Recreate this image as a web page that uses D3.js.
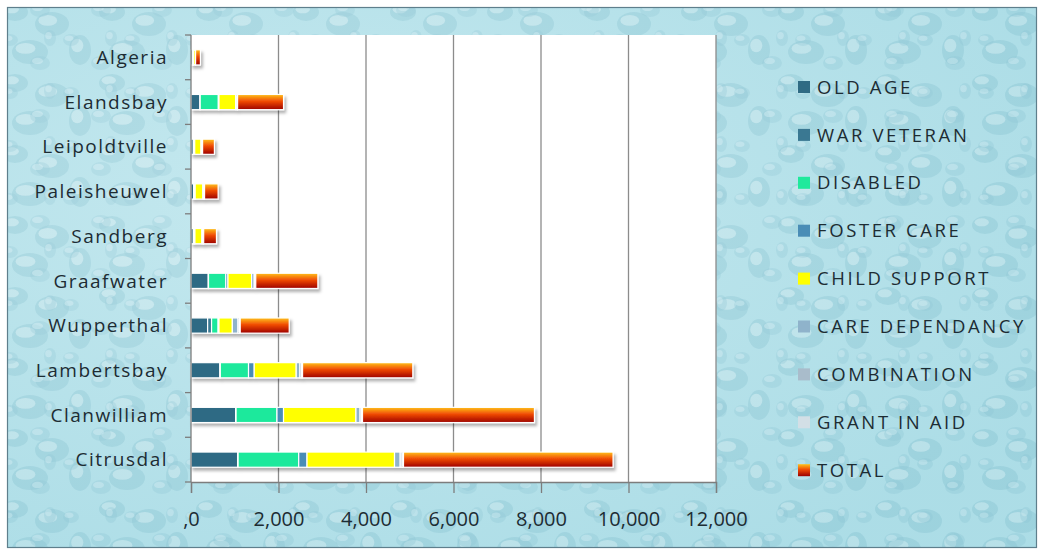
<!DOCTYPE html>
<html>
<head>
<meta charset="utf-8">
<script src="https://cdn.jsdelivr.net/npm/d3@7"></script>
<style>
  body { margin: 0; background: #fff; }
  text { font-family: "Open Sans", "Noto Sans", sans-serif; fill: #1d2c33; }
</style>
</head>
<body>
<svg id="chart" width="1043" height="550"></svg>
<script>
// Towns, top to bottom
const categories = ["Algeria", "Elandsbay", "Leipoldtville", "Paleisheuwel", "Sandberg",
  "Graafwater", "Wupperthal", "Lambertsbay", "Clanwilliam", "Citrusdal"];

// Grant counts per town (same order as categories)
const oldAge         = [40, 205, 55, 60, 55, 395, 380, 660, 1020, 1065];
const warVeteran     = [0, 5, 0, 0, 0, 5, 90, 10, 10, 12];
const disabled       = [10, 415, 20, 25, 25, 395, 150, 645, 935, 1385];
const fosterCare     = [5, 15, 10, 10, 10, 50, 20, 130, 150, 190];
const childSupport   = [45, 380, 145, 175, 160, 540, 305, 960, 1655, 2000];
const careDependancy = [5, 30, 20, 25, 25, 60, 130, 85, 95, 130];
const combination    = [0, 10, 10, 10, 10, 20, 30, 40, 35, 45];
const grantInAid     = [0, 5, 5, 5, 5, 15, 20, 20, 20, 30];
const total          = [110, 1050, 270, 310, 292, 1420, 1120, 2520, 3930, 4790];

const seriesNames = ["OLD AGE", "WAR VETERAN", "DISABLED", "FOSTER CARE", "CHILD SUPPORT",
  "CARE DEPENDANCY", "COMBINATION", "GRANT IN AID", "TOTAL"];
const seriesValues = [oldAge, warVeteran, disabled, fosterCare, childSupport,
  careDependancy, combination, grantInAid, total];
const seriesColors = ["#2f6b84", "#3a7892", "#1fe99c", "#4a8db6", "#ffff00",
  "#8fb3cb", "#a9bccb", "#d3dfe6", "url(#totalGrad)"];

const xTicks = [0, 2000, 4000, 6000, 8000, 10000, 12000];
const xTickLabels = [",0", "2,000", "4,000", "6,000", "8,000", "10,000", "12,000"];

const svg = d3.select("#chart");
const defs = svg.append("defs");

// water-drop background, two overlapping tiles so it looks less regular
function dropPattern(id, w, h, drops, op) {
  const pat = defs.append("pattern")
      .attr("id", id)
      .attr("patternUnits", "userSpaceOnUse")
      .attr("width", w).attr("height", h);
  drops.forEach(d => {
    pat.append("ellipse").attr("cx", d[0]).attr("cy", d[1]).attr("rx", d[2]).attr("ry", d[3])
      .attr("fill", "#8fc6d4").attr("opacity", op);
    pat.append("ellipse").attr("cx", d[0] - d[2] * 0.25).attr("cy", d[1] - d[3] * 0.3)
      .attr("rx", d[2] * 0.55).attr("ry", d[3] * 0.45)
      .attr("fill", "#eefbfd").attr("opacity", op);
  });
}
dropPattern("dropsA", 97, 71, [[15, 12, 13, 9], [52, 24, 17, 12], [80, 50, 11, 15], [30, 52, 18, 12]], 0.45);
dropPattern("dropsB", 61, 53, [[10, 40, 8, 6], [40, 10, 10, 7], [50, 38, 6, 8]], 0.35);

const bgGrad = defs.append("radialGradient").attr("id", "glow")
    .attr("cx", "30%").attr("cy", "35%").attr("r", "80%");
bgGrad.append("stop").attr("offset", "0%").attr("stop-color", "#ffffff").attr("stop-opacity", 0.2);
bgGrad.append("stop").attr("offset", "100%").attr("stop-color", "#7cc2d2").attr("stop-opacity", 0.18);

const tg = defs.append("linearGradient").attr("id", "totalGrad")
    .attr("x1", 0).attr("y1", 0).attr("x2", 0).attr("y2", 1);
tg.append("stop").attr("offset", "0%").attr("stop-color", "#ffc21a");
tg.append("stop").attr("offset", "45%").attr("stop-color", "#f04a05");
tg.append("stop").attr("offset", "100%").attr("stop-color", "#9c0000");

const shadow = defs.append("filter").attr("id", "shadow")
    .attr("x", "-5%").attr("y", "-30%").attr("width", "115%").attr("height", "180%");
shadow.append("feDropShadow").attr("dx", 2).attr("dy", 3).attr("stdDeviation", 1.5)
    .attr("flood-color", "#000").attr("flood-opacity", 0.3);

// chart frame
svg.append("rect").attr("x", 7.5).attr("y", 7.5).attr("width", 1029).attr("height", 540)
    .attr("fill", "#b7e3eb");
svg.append("rect").attr("x", 8).attr("y", 8).attr("width", 1028).attr("height", 539).attr("fill", "url(#dropsA)");
svg.append("rect").attr("x", 8).attr("y", 8).attr("width", 1028).attr("height", 539).attr("fill", "url(#dropsB)");
svg.append("rect").attr("x", 8).attr("y", 8).attr("width", 1028).attr("height", 539).attr("fill", "url(#glow)");
svg.append("rect").attr("x", 7.5).attr("y", 7.5).attr("width", 1029).attr("height", 540)
    .attr("fill", "none").attr("stroke", "#5e7f8c").attr("stroke-width", 1.2);

const margin = { left: 191, top: 35, right: 716, bottom: 482 };

const x = d3.scaleLinear().domain([0, 12000]).range([margin.left, margin.right]);
const y = d3.scaleBand().domain(categories).range([margin.top, margin.bottom]).paddingInner(0.66).paddingOuter(0.33);

// plot area
svg.append("rect").attr("x", margin.left).attr("y", margin.top)
    .attr("width", margin.right - margin.left).attr("height", margin.bottom - margin.top)
    .attr("fill", "#ffffff");

// vertical gridlines
svg.append("g").selectAll("line")
  .data(xTicks.slice(1))
  .join("line")
    .attr("x1", d => x(d)).attr("x2", d => x(d))
    .attr("y1", margin.top).attr("y2", margin.bottom)
    .attr("stroke", "#8c8c8c").attr("stroke-width", 1.3);

// stacked bars
const stackData = categories.map((c, i) => {
  const row = { town: c };
  seriesNames.forEach((s, j) => row[s] = seriesValues[j][i]);
  return row;
});
const stacked = d3.stack().keys(seriesNames)(stackData);

const barG = svg.append("g").attr("filter", "url(#shadow)");
stacked.forEach((layer, j) => {
  barG.append("g").selectAll("rect")
    .data(layer.filter(d => d[1] > d[0]))
    .join("rect")
      .attr("x", d => x(d[0]))
      .attr("y", d => y(d.data.town))
      .attr("width", d => x(d[1]) - x(d[0]))
      .attr("height", y.bandwidth())
      .attr("fill", seriesColors[j])
      .attr("stroke", "#ffffff").attr("stroke-width", 1.2);
});

// x axis
const xAxis = svg.append("g")
    .attr("transform", `translate(0,${margin.bottom})`)
    .call(d3.axisBottom(x).tickValues(xTicks).tickSize(11).tickFormat((d, i) => xTickLabels[i]));
xAxis.select(".domain").attr("stroke", "#7d7d7d").attr("stroke-width", 1.3);
xAxis.selectAll(".tick line").attr("stroke", "#7d7d7d").attr("stroke-width", 1.3);
xAxis.selectAll(".tick text").attr("dy", "1.5em").style("font-size", "20px").attr("fill", "#1d2c33");

// y axis
const yBoundaries = d3.range(categories.length + 1).map(i => margin.top + i * (margin.bottom - margin.top) / categories.length);
svg.append("line").attr("x1", margin.left).attr("x2", margin.left)
    .attr("y1", margin.top).attr("y2", margin.bottom)
    .attr("stroke", "#7d7d7d").attr("stroke-width", 1.3);
svg.append("g").selectAll("line")
  .data(yBoundaries)
  .join("line")
    .attr("x1", margin.left - 6).attr("x2", margin.left)
    .attr("y1", d => d).attr("y2", d => d)
    .attr("stroke", "#7d7d7d").attr("stroke-width", 1.3);
svg.append("g").selectAll("text")
  .data(categories)
  .join("text")
    .attr("x", 168)
    .attr("y", d => y(d) + y.bandwidth() / 2)
    .attr("dy", "0.35em")
    .attr("text-anchor", "end")
    .style("font-size", "19px")
    .style("letter-spacing", "1.5px")
    .text(d => d);

// legend
const legend = svg.append("g");
seriesNames.forEach((s, j) => {
  const ly = 87 + j * 47.9;
  legend.append("rect").attr("x", 798).attr("y", ly - 6).attr("width", 12).attr("height", 12)
      .attr("fill", seriesColors[j]);
  legend.append("text").attr("x", 817).attr("y", ly).attr("dy", "0.36em")
      .style("font-size", "18.5px").style("letter-spacing", "2.6px").text(s);
});
</script>
</body>
</html>
